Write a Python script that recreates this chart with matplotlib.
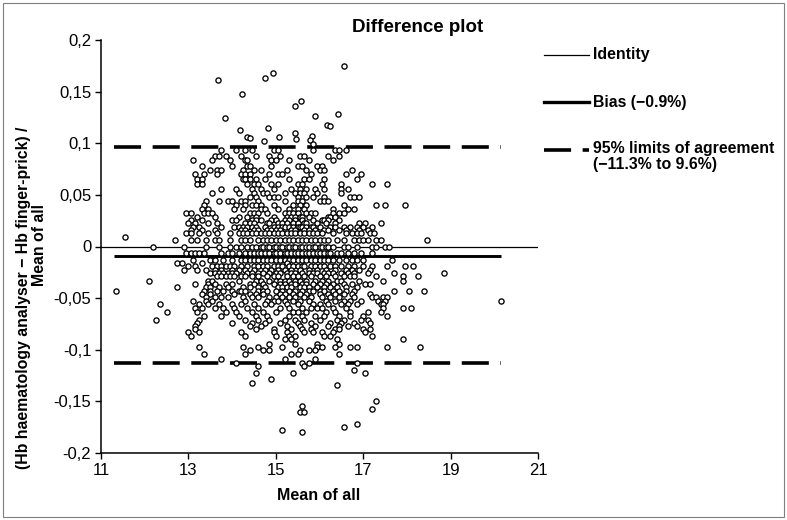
import matplotlib
matplotlib.use('Agg')
import matplotlib.pyplot as plt
from matplotlib.lines import Line2D
from matplotlib.patches import Rectangle
from matplotlib.ticker import FuncFormatter

# ---- data ----
bias = -0.009
loa_upper = 0.096
loa_lower = -0.113

# isolated points: x = mean of all, y = relative difference
outlier_x = [16.56, 14.93, 14.76, 13.67, 14.23, 15.57, 15.44, 13.83, 15.89, 16.43,
             16.17, 16.23, 14.17, 14.83, 15.44, 14.33, 14.41, 15.08, 15.83, 15.79,
             15.47, 14.72, 15.85, 11.55, 18.45]
outlier_y = [0.175, 0.168, 0.163, 0.161, 0.148, 0.141, 0.136, 0.124, 0.126, 0.128,
             0.118, 0.117, 0.113, 0.115, 0.110, 0.106, 0.105, 0.106, 0.107, 0.103,
             0.104, 0.102, 0.099, 0.009, 0.006]

# rows of points sharing (roughly) the same y level
upper_rows = [
    (0.093, [13.75, 14.1, 14.3, 14.45, 14.95, 15.05, 15.85, 16.35, 16.45, 16.6]),
    (0.088, [13.6, 13.7, 13.85, 14.2, 14.55, 14.85, 15.1, 15.55, 15.65, 16.2, 16.45]),
    (0.084, [13.1, 13.55, 13.95, 14.3, 14.35, 14.9, 15.0, 15.3, 15.75, 16.3]),
    (0.078, [13.3, 14.0, 14.35, 14.4, 14.9, 15.5, 15.6, 15.95, 16.05]),
    (0.074, [13.5, 13.65, 13.75, 14.25, 14.5, 14.65, 15.25, 15.7, 16.0, 16.1, 16.75]),
    (0.070, [13.15, 13.35, 13.65, 14.2, 14.3, 14.4, 14.85, 15.05, 15.15, 15.8, 16.6, 16.95]),
    (0.065, [13.2, 13.3, 14.25, 14.3, 14.4, 14.55, 14.75, 15.3, 15.65, 15.75, 16.1, 16.85]),
    (0.061, [13.2, 13.3, 14.35, 14.5, 14.6, 14.9, 15.05, 15.5, 15.6, 16.05, 16.5, 17.2, 17.55]),
    (0.056, [13.75, 14.1, 14.45, 14.65, 14.95, 15.35, 15.55, 15.7, 15.9, 16.1, 16.5, 16.65]),
    (0.052, [13.55, 14.15, 14.5, 14.7, 14.8, 15.2, 15.45, 15.55, 15.65, 15.95, 16.5]),
    (0.048, [14.4, 14.55, 14.85, 14.95, 15.05, 15.5, 15.7, 15.85, 16.1, 16.7, 16.8, 16.9]),
    (0.044, [13.4, 13.7, 13.9, 14.0, 14.2, 14.3, 14.6, 15.2, 15.5, 15.6, 16.0, 16.1, 16.2]),
    (0.040, [13.35, 14.1, 14.3, 14.45, 14.55, 14.65, 14.95, 15.4, 15.55, 15.7, 16.55, 17.3, 17.5, 17.95]),
    (0.036, [13.3, 13.45, 14.05, 14.25, 14.65, 14.75, 15.05, 15.3, 15.5, 15.65, 16.3, 16.65, 16.8]),
]

core_rows = [
    (0.032, [12.95, 13.05, 13.35, 13.45, 13.55, 14.4, 14.5, 14.6, 14.8, 15.2, 15.3, 15.4,
             15.5, 15.7, 15.8, 15.9, 16.3, 16.45, 16.55]),
    (0.029, [13.2, 13.6, 14.15, 14.35, 14.55, 14.95, 15.25, 15.35, 15.45, 15.55, 15.6,
             15.75, 16.2, 16.25, 16.35]),
    (0.026, [13.05, 13.3, 14.0, 14.1, 14.45, 14.55, 14.65, 14.9, 15.0, 15.2, 15.3, 15.45,
             15.6, 15.85, 16.05, 16.1, 16.2, 16.45]),
    (0.023, [13.0, 13.15, 13.45, 13.65, 14.3, 14.4, 14.5, 14.8, 14.85, 15.05, 15.15, 15.25,
             15.4, 15.5, 15.65, 15.7, 15.95, 16.15, 16.35, 16.9, 17.05, 17.4]),
    (0.019, [13.1, 13.25, 13.75, 14.05, 14.15, 14.25, 14.35, 14.45, 14.55, 14.75, 14.95,
             15.05, 15.15, 15.2, 15.3, 15.4, 15.5, 15.55, 15.6, 15.7, 15.8, 15.85, 16.0,
             16.25, 16.35, 16.55, 16.7, 16.85, 17.0, 17.2]),
    (0.016, [13.05, 13.3, 13.6, 14.2, 14.3, 14.5, 14.6, 14.8, 14.9, 15.0, 15.1, 15.35,
             15.45, 15.65, 15.75, 15.9, 16.1, 16.2, 16.45, 16.6, 16.9, 17.1]),
    (0.013, [12.95, 13.05, 13.25, 13.45, 13.65, 13.95, 14.15, 14.25, 14.35, 14.45, 14.55,
             14.65, 14.75, 14.85, 14.95, 15.05, 15.15, 15.25, 15.35, 15.45, 15.55, 15.65,
             15.75, 15.85, 15.95, 16.05, 16.3, 16.6, 16.75, 16.85, 16.95, 17.15, 17.25]),
    (0.0065, [12.7, 13.05, 13.2, 13.4, 13.6, 13.7, 13.95, 14.2, 14.3, 14.4, 14.6, 14.7,
              14.8, 14.9, 15.0, 15.1, 15.2, 15.3, 15.4, 15.5, 15.6, 15.7, 15.8, 15.9, 16.0,
              16.1, 16.2, 16.4, 16.55, 16.8, 16.9, 17.0, 17.1, 17.3, 17.4]),
    (0.0, [12.2, 12.9, 13.4, 13.7, 13.95, 14.1, 14.2, 14.35, 14.45, 14.55, 14.65, 14.7,
           14.8, 14.85, 14.95, 15.0, 15.1, 15.15, 15.25, 15.3, 15.4, 15.45, 15.55, 15.6,
           15.7, 15.75, 15.85, 15.9, 16.0, 16.05, 16.15, 16.2, 16.3, 16.55, 16.65, 16.85,
           17.2, 17.3, 17.5, 17.6]),
    (-0.0065, [12.95, 13.05, 13.15, 13.25, 13.35, 13.75, 13.9, 14.0, 14.15, 14.3, 14.4,
               14.5, 14.6, 14.65, 14.75, 14.85, 14.95, 15.0, 15.1, 15.2, 15.25, 15.35, 15.45,
               15.5, 15.6, 15.7, 15.75, 15.85, 15.95, 16.0, 16.1, 16.2, 16.25, 16.4, 16.5,
               16.65, 16.8, 16.95, 17.2]),
    (-0.013, [13.1, 13.5, 13.6, 13.8, 14.0, 14.2, 14.3, 14.4, 14.5, 14.6, 14.7, 14.8, 14.9,
              15.0, 15.1, 15.2, 15.3, 15.4, 15.5, 15.6, 15.7, 15.8, 15.9, 16.0, 16.1, 16.2,
              16.3, 16.45, 16.6, 16.75, 16.85, 17.0, 17.65]),
    (-0.016, [12.75, 12.85, 13.3, 15.25]),
    (-0.019, [13.0, 13.15, 13.55, 13.65, 13.75, 13.85, 13.95, 14.05, 14.2, 14.35, 14.5,
              14.6, 14.7, 14.8, 14.95, 15.05, 15.15, 15.3, 15.4, 15.5, 15.6, 15.65, 15.8,
              15.9, 16.0, 16.1, 16.25, 16.35, 16.5, 16.65, 16.8, 17.0, 17.2, 17.55, 17.95,
              18.15]),
    (-0.023, [12.9, 13.2, 13.4, 13.6, 13.75, 14.0, 14.15, 14.3, 14.5, 14.75, 14.9, 15.05,
              15.2, 15.35, 15.55, 15.75, 15.95, 16.15, 16.35, 16.6, 16.75, 16.9, 17.15]),
    (-0.026, [13.5, 13.6, 13.7, 13.8, 13.9, 14.0, 14.1, 14.35, 14.45, 14.6, 14.7, 14.85,
              15.0, 15.1, 15.25, 15.35, 15.45, 15.6, 15.75, 15.85, 15.95, 16.1, 16.2, 16.3,
              16.5, 16.65, 16.8, 17.1, 17.7, 18.85]),
    (-0.029, [13.65, 13.75, 13.85, 13.95, 14.05, 14.2, 14.3, 14.45, 14.6, 14.8, 14.95,
              15.05, 15.25, 15.4, 15.5, 15.65, 15.8, 16.0, 16.15, 16.35, 16.55, 16.7, 16.8,
              17.3, 17.9, 18.25]),
]

lower_rows = [
    (-0.033, [12.1, 13.45, 13.55, 14.15, 14.55, 14.65, 14.85, 15.0, 15.1, 15.2, 15.3, 15.45,
              15.55, 15.7, 15.9, 16.05, 16.2, 16.4, 16.5, 16.9, 17.45, 17.9]),
    (-0.036, [13.15, 13.45, 13.6, 13.85, 14.0, 14.4, 14.5, 14.7, 14.95, 15.1, 15.2, 15.35,
              15.45, 15.6, 15.7, 15.85, 16.0, 16.15, 16.3, 16.55, 16.75, 17.05, 17.15]),
    (-0.039, [12.75, 13.4, 13.5, 13.7, 13.9, 14.25, 14.4, 14.6, 14.75, 15.05, 15.15, 15.25,
              15.35, 15.55, 15.65, 15.75, 15.95, 16.1, 16.25, 16.4, 16.6, 16.85]),
    (-0.043, [11.35, 13.35, 13.5, 13.65, 13.8, 14.0, 14.15, 14.2, 14.3, 14.6, 14.7, 14.8,
              15.0, 15.15, 15.3, 15.45, 15.6, 15.75, 15.85, 16.0, 16.1, 16.3, 16.45, 16.6,
              16.8, 17.7, 18.05, 18.4]),
    (-0.046, [13.3, 13.5, 14.05, 14.4, 14.55, 14.7, 15.1, 15.2, 15.4, 15.55, 15.7, 16.0,
              16.2, 16.35, 16.55, 16.75, 17.15]),
    (-0.049, [13.4, 13.6, 13.75, 13.9, 14.25, 14.45, 14.6, 14.85, 15.0, 15.15, 15.3, 15.45,
              15.65, 15.8, 16.05, 16.25, 16.45, 16.8, 17.2, 17.3, 17.45, 17.55]),
    (-0.053, [13.1, 13.4, 13.55, 14.3, 14.8, 14.95, 15.05, 15.2, 15.4, 15.55, 15.75, 16.15,
              16.35, 16.55, 16.7, 16.95, 17.35, 17.5, 20.15]),
    (-0.056, [12.35, 13.25, 13.45, 13.7, 14.0, 14.2, 14.5, 14.75, 14.9, 15.25, 15.5, 15.85,
              16.0, 16.2, 16.5, 16.65, 16.85, 17.4, 17.45]),
    (-0.060, [13.15, 13.3, 13.6, 13.8, 14.05, 14.35, 14.6, 15.1, 15.3, 15.6, 15.8, 15.95,
              16.05, 16.3, 16.6, 17.45, 17.9, 18.1]),
    (-0.063, [12.5, 13.2, 13.85, 14.1, 14.45, 14.7, 15.0, 15.4, 15.5, 15.7, 16.15, 16.35,
              16.7, 17.1, 17.4]),
    (-0.067, [13.35, 13.75, 14.15, 14.55, 14.8, 15.3, 15.6, 15.9, 16.1, 16.45, 16.7, 17.0, 17.55]),
    (-0.071, [12.25, 13.25, 14.3, 14.6, 14.85, 15.2, 15.45, 15.65, 16.0, 16.4, 16.55, 16.95, 17.1]),
    (-0.074, [13.2, 14.0, 14.45, 14.75, 15.1, 15.5, 15.8, 16.25, 16.5, 16.8, 17.15]),
    (-0.077, [13.15, 14.4, 14.65, 15.25, 15.55, 15.9, 16.2, 16.45, 16.65, 16.85]),
    (-0.080, [13.15, 14.55, 14.95, 15.35, 15.6, 15.8, 16.35, 16.45, 17.0, 17.15]),
    (-0.083, [13.0, 13.25, 14.2, 14.95, 15.25, 15.65, 15.85, 16.05, 16.3, 17.05]),
    (-0.087, [13.05, 14.3, 15.0, 15.3, 15.45, 16.1, 16.25, 17.2]),
    (-0.090, [15.2, 15.35, 16.4, 17.9]),
    (-0.094, [14.85, 15.45, 15.95, 16.45]),
    (-0.097, [13.25, 14.25, 14.6, 15.15, 15.95, 16.05, 16.35, 16.7, 16.85, 17.55, 18.3]),
    (-0.100, [14.4, 14.7, 14.85, 15.55, 15.75, 15.9]),
    (-0.104, [13.35, 14.3, 15.35, 15.5, 16.45]),
    (-0.109, [13.75, 15.2, 15.9]),
    (-0.113, [14.1, 15.6, 15.75, 16.85]),
    (-0.116, [14.6, 15.65]),
    (-0.120, [16.8]),
    (-0.123, [14.55, 15.4, 17.05]),
    (-0.128, [14.9]),
    (-0.132, [14.45]),
    (-0.134, [16.4]),
    (-0.150, [17.3]),
    (-0.154, [15.6]),
    (-0.157, [17.2]),
    (-0.160, [15.55, 15.65]),
    (-0.172, [16.85]),
    (-0.175, [16.55]),
    (-0.178, [15.15]),
    (-0.180, [15.6]),
]

x_ticks = [11, 13, 15, 17, 19, 21]
y_ticks = [0.2, 0.15, 0.1, 0.05, 0, -0.05, -0.1, -0.15, -0.2]

# flatten rows
pts_x = list(outlier_x)
pts_y = list(outlier_y)
for rows in (upper_rows, core_rows, lower_rows):
    for yv, xs in rows:
        pts_x.extend(xs)
        pts_y.extend([yv] * len(xs))

# ---- figure ----
plt.rcParams['font.family'] = ['Liberation Sans Narrow', 'Liberation Sans', 'DejaVu Sans']
W, H = 787, 520
fig = plt.figure(figsize=(W / 100, H / 100), dpi=100)

# grey frame around the whole picture
fig.add_artist(Rectangle((3 / W, 3 / H), 1 - 6 / W, 1 - 6 / H, transform=fig.transFigure,
                         fill=False, edgecolor='#7f7f7f', linewidth=0.8))

ax = fig.add_axes([101 / W, 1 - 453 / H, 437 / W, 413 / H])

x_seg = [11.3, 20.15]
ax.axhline(0, color='black', linewidth=0.9, zorder=1)
ax.plot(x_seg, [bias, bias], color='black', linewidth=2.1, solid_capstyle='butt', zorder=1)
for yv in (loa_upper, loa_lower):
    ax.plot(x_seg, [yv, yv], color='black', linewidth=2.6, dashes=(7.5, 3.2),
            dash_capstyle='butt', zorder=1)

ax.scatter(pts_x, pts_y, s=14, facecolors='white', edgecolors='black', linewidths=0.95, zorder=3)

ax.set_xlim(11, 21)
ax.set_ylim(-0.2, 0.2)
ax.set_xticks(x_ticks)
ax.set_yticks(y_ticks)
ax.yaxis.set_major_formatter(FuncFormatter(lambda v, p: f'{v:g}'.replace('.', ',')))
ax.tick_params(direction='out', length=4, width=1, labelsize=12, pad=3)
for s in ('top', 'right'):
    ax.spines[s].set_visible(False)
for s in ('left', 'bottom'):
    ax.spines[s].set_linewidth(1.1)

fig.text(418 / W, 1 - 27 / H, 'Difference plot', ha='center', va='center',
         fontsize=13.5, fontweight='bold')
fig.text(319 / W, 1 - 496 / H, 'Mean of all', ha='center', va='center',
         fontsize=11.5, fontweight='bold')
fig.text(24 / W, 1 - 298 / H, '(Hb haematology analyser \u2212 Hb finger-prick) /',
         ha='center', va='center', rotation=90, fontsize=11.4, fontweight='bold')
fig.text(40 / W, 1 - 245 / H, 'Mean of all', ha='center', va='center', rotation=90,
         fontsize=11.4, fontweight='bold')

# legend drawn by hand on the right
leg_x0, leg_x1, txt_x = 544 / W, 589 / W, 593 / W
fig.add_artist(Line2D([leg_x0, leg_x1], [1 - 55 / H] * 2, color='black', linewidth=0.9))
fig.add_artist(Line2D([leg_x0, leg_x1], [1 - 102 / H] * 2, color='black', linewidth=2.4))
fig.add_artist(Line2D([leg_x0, leg_x1], [1 - 150 / H] * 2, color='black', linewidth=2.6,
                      dashes=(7.5, 3.2)))
fig.text(txt_x, 1 - 55 / H, 'Identity', va='center', fontsize=11.4, fontweight='bold')
fig.text(txt_x, 1 - 102 / H, 'Bias (\u22120.9%)', va='center', fontsize=11.4, fontweight='bold')
fig.text(txt_x, 1 - 148 / H, '95% limits of agreement', va='center', fontsize=11.4,
         fontweight='bold')
fig.text(txt_x, 1 - 164 / H, '(\u221211.3% to 9.6%)', va='center', fontsize=11.4,
         fontweight='bold')

fig.savefig('out.png', dpi=100)
